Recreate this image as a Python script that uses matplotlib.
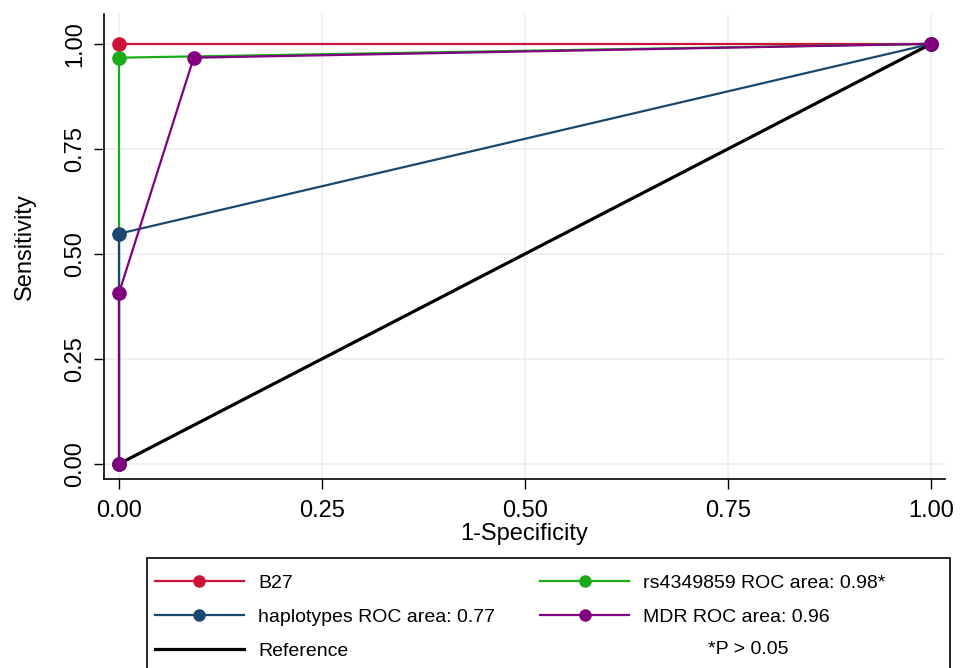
import matplotlib
matplotlib.use("Agg")
import matplotlib.pyplot as plt
from matplotlib.lines import Line2D
from matplotlib.patches import Rectangle

plt.rcParams['font.family'] = ['Liberation Sans', 'DejaVu Sans']

# Data (1-specificity, sensitivity)
b27_x = [0.0, 1.0]
b27_y = [1.0, 1.0]
rs_x = [0.0, 0.0, 1.0]
rs_y = [0.0, 0.967, 1.0]
hap_x = [0.0, 0.0, 1.0]
hap_y = [0.0, 0.548, 1.0]
mdr_x = [0.0, 0.0, 0.092, 1.0]
mdr_y = [0.0, 0.407, 0.967, 1.0]
ref_x = [0.0, 1.0]
ref_y = [0.0, 1.0]

labels = ["B27", "rs4349859 ROC area: 0.98*", "haplotypes ROC area: 0.77",
          "MDR ROC area: 0.96", "Reference"]
note = "*P > 0.05"
ticks = [0.0, 0.25, 0.5, 0.75, 1.0]
tick_labels = ["0.00", "0.25", "0.50", "0.75", "1.00"]

c_red = '#cc1236'
c_green = '#1aaa1a'
c_navy = '#1a476f'
c_purple = '#800080'

W, H = 967, 668
fig = plt.figure(figsize=(W / 100, H / 100), dpi=100)
ax = fig.add_axes([104 / W, 1 - 479 / H, (945 - 104) / W, (479 - 14) / H])

ax.plot(ref_x, ref_y, color='black', lw=2.3, zorder=2)
ms = 9.5
ax.plot(b27_x, b27_y, color=c_red, lw=1.6, marker='o', ms=ms, zorder=3)
ax.plot(rs_x, rs_y, color=c_green, lw=1.6, marker='o', ms=ms, zorder=4)
ax.plot(hap_x, hap_y, color=c_navy, lw=1.6, marker='o', ms=ms, zorder=5)
ax.plot(mdr_x, mdr_y, color=c_purple, lw=1.6, marker='o', ms=ms, zorder=6)

ax.set_xlim(-0.0185, 1.017)
ax.set_ylim(-0.036, 1.071)
ax.set_xticks(ticks)
ax.set_xticklabels(tick_labels, fontsize=17)
ax.set_yticks(ticks)
ax.set_yticklabels(tick_labels, fontsize=17, rotation=90, va='center')
ax.tick_params(axis='both', length=7, width=1.0, direction='out')
ax.tick_params(axis='x', pad=8)
ax.tick_params(axis='y', pad=6)
ax.grid(True, color='#e8eff3', lw=1.2)
ax.set_axisbelow(True)
for s in ['top', 'right']:
    ax.spines[s].set_visible(False)
for s in ['left', 'bottom']:
    ax.spines[s].set_linewidth(1.2)
ax.set_xlabel("1-Specificity", fontsize=17, labelpad=1)
ax.set_ylabel("Sensitivity", fontsize=17, labelpad=20)

h_red = Line2D([], [], color=c_red, lw=1.6, marker='o', ms=8)
h_green = Line2D([], [], color=c_green, lw=1.6, marker='o', ms=8)
h_navy = Line2D([], [], color=c_navy, lw=1.6, marker='o', ms=8)
h_purple = Line2D([], [], color=c_purple, lw=1.6, marker='o', ms=8)
h_ref = Line2D([], [], color='black', lw=2.3)

handles = [h_red, h_navy, h_ref, h_green, h_purple]
labs = [labels[0], labels[2], labels[4], labels[1], labels[3]]
leg = fig.legend(handles, labs, ncol=2, loc='upper left',
                 bbox_to_anchor=(141 / W, 1 - 561 / H),
                 fontsize=14, frameon=False,
                 handlelength=4.6, handletextpad=0.72,
                 columnspacing=2.3, labelspacing=0.84, borderpad=0.7,
                 borderaxespad=0)

fig.patches.append(Rectangle((147 / W, -0.05), (950 - 147) / W, 0.05 + (1 - 558 / H),
                             transform=fig.transFigure, fill=False,
                             edgecolor='black', lw=1.2))
fig.text(748 / W, 1 - 650 / H, note, fontsize=14, ha='center', va='center')

fig.savefig("out.png", dpi=100)
